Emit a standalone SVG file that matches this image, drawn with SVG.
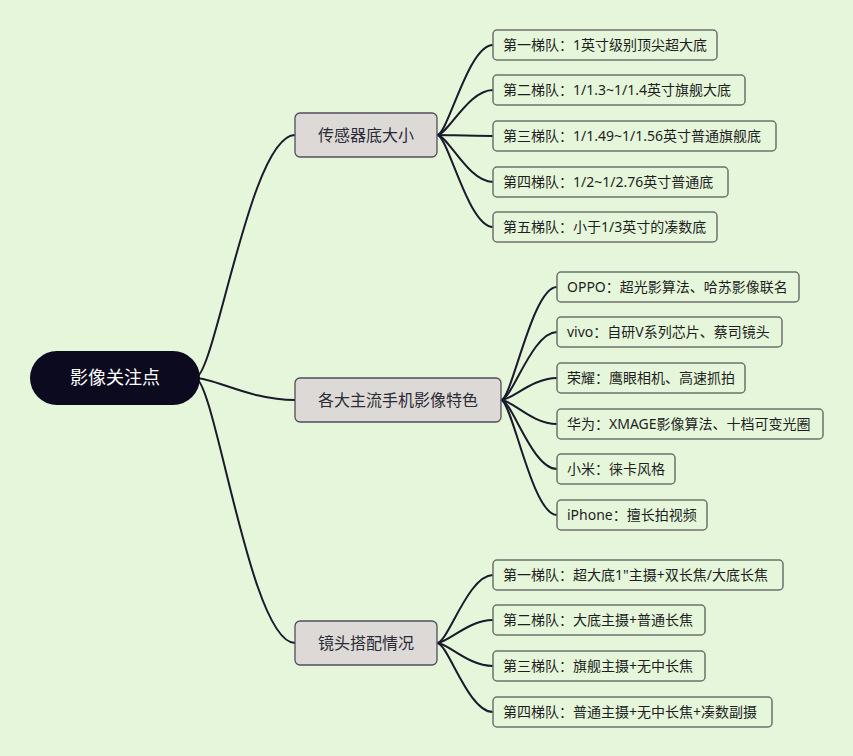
<svg xmlns="http://www.w3.org/2000/svg" width="853" height="756" viewBox="0 0 853 756">
<style>
.bg{fill:#e5f6da}
.conn path{fill:none;stroke:#1a1a2c;stroke-width:2;stroke-linecap:round}
.root rect{fill:#0c0a1f}
.root text{fill:#ffffff;font-size:18px}
.mid rect{fill:#ddd9d6;stroke:#4f4e5e;stroke-width:1.3}
.mid text{fill:#2b2b36;font-size:16px}
.leaf rect{fill:#e5f6da;stroke:#6d716d;stroke-width:1.5}
.leaf text{fill:#1e1e1e;font-size:14px}
text{font-family:"Noto Sans","Noto Sans CJK SC",sans-serif}
.c{text-anchor:middle}
</style>
<rect class="bg" x="0" y="0" width="853" height="756"/>
<g id="connectors" class="conn">
<path d="M195 378 C215 378 250 135 295 135"/>
<path d="M195 378 C215 378 250 400 295 400"/>
<path d="M195 378 C215 378 250 643 295 643"/>
<path d="M437 135 C448 135 468 45 493 45"/>
<path d="M437 135 C448 135 468 90 493 90"/>
<path d="M437 135 C448 135 468 136 493 136"/>
<path d="M437 135 C448 135 468 182 493 182"/>
<path d="M437 135 C448 135 468 227 493 227"/>
<path d="M501 400 C512 400 532 287 557 287"/>
<path d="M501 400 C512 400 532 332 557 332"/>
<path d="M501 400 C512 400 532 378 557 378"/>
<path d="M501 400 C512 400 532 424 557 424"/>
<path d="M501 400 C512 400 532 469 557 469"/>
<path d="M501 400 C512 400 532 515 557 515"/>
<path d="M437 643 C448 643 468 575 493 575"/>
<path d="M437 643 C448 643 468 620 493 620"/>
<path d="M437 643 C448 643 468 666 493 666"/>
<path d="M437 643 C448 643 468 712 493 712"/>
</g>
<g id="root" class="root"><rect x="30" y="351" width="170" height="54" rx="27"/><text class="c" x="115" y="384">影像关注点</text></g>
<g id="m1" class="mid"><rect x="295" y="113" width="142" height="44" rx="5"/><text class="c" x="366" y="141">传感器底大小</text></g>
<g id="m2" class="mid"><rect x="295" y="378" width="206" height="44" rx="5"/><text class="c" x="398" y="406">各大主流手机影像特色</text></g>
<g id="m3" class="mid"><rect x="295" y="621" width="142" height="44" rx="5"/><text class="c" x="366" y="649">镜头搭配情况</text></g>
<g id="l1a" class="leaf"><rect x="493" y="30" width="224" height="30" rx="4"/><text x="503" y="50">第一梯队：1英寸级别顶尖超大底</text></g>
<g id="l1b" class="leaf"><rect x="493" y="75" width="252" height="30" rx="4"/><text x="503" y="95">第二梯队：1/1.3~1/1.4英寸旗舰大底</text></g>
<g id="l1c" class="leaf"><rect x="493" y="121" width="283" height="30" rx="4"/><text x="503" y="141">第三梯队：1/1.49~1/1.56英寸普通旗舰底</text></g>
<g id="l1d" class="leaf"><rect x="493" y="167" width="235" height="30" rx="4"/><text x="503" y="187">第四梯队：1/2~1/2.76英寸普通底</text></g>
<g id="l1e" class="leaf"><rect x="493" y="212" width="224" height="30" rx="4"/><text x="503" y="232">第五梯队：小于1/3英寸的凑数底</text></g>
<g id="l2a" class="leaf"><rect x="557" y="272" width="242" height="30" rx="4"/><text x="567" y="292">OPPO：超光影算法、哈苏影像联名</text></g>
<g id="l2b" class="leaf"><rect x="557" y="317" width="225" height="30" rx="4"/><text x="567" y="337">vivo：自研V系列芯片、蔡司镜头</text></g>
<g id="l2c" class="leaf"><rect x="557" y="363" width="188" height="30" rx="4"/><text x="567" y="383">荣耀：鹰眼相机、高速抓拍</text></g>
<g id="l2d" class="leaf"><rect x="557" y="409" width="266" height="30" rx="4"/><text x="567" y="429">华为：XMAGE影像算法、十档可变光圈</text></g>
<g id="l2e" class="leaf"><rect x="557" y="454" width="118" height="30" rx="4"/><text x="567" y="474">小米：徕卡风格</text></g>
<g id="l2f" class="leaf"><rect x="557" y="500" width="150" height="30" rx="4"/><text x="567" y="520">iPhone：擅长拍视频</text></g>
<g id="l3a" class="leaf"><rect x="493" y="560" width="290" height="30" rx="4"/><text x="503" y="580">第一梯队：超大底1"主摄+双长焦/大底长焦</text></g>
<g id="l3b" class="leaf"><rect x="493" y="605" width="212" height="30" rx="4"/><text x="503" y="625">第二梯队：大底主摄+普通长焦</text></g>
<g id="l3c" class="leaf"><rect x="493" y="651" width="212" height="30" rx="4"/><text x="503" y="671">第三梯队：旗舰主摄+无中长焦</text></g>
<g id="l3d" class="leaf"><rect x="493" y="697" width="279" height="30" rx="4"/><text x="503" y="717">第四梯队：普通主摄+无中长焦+凑数副摄</text></g>
</svg>
